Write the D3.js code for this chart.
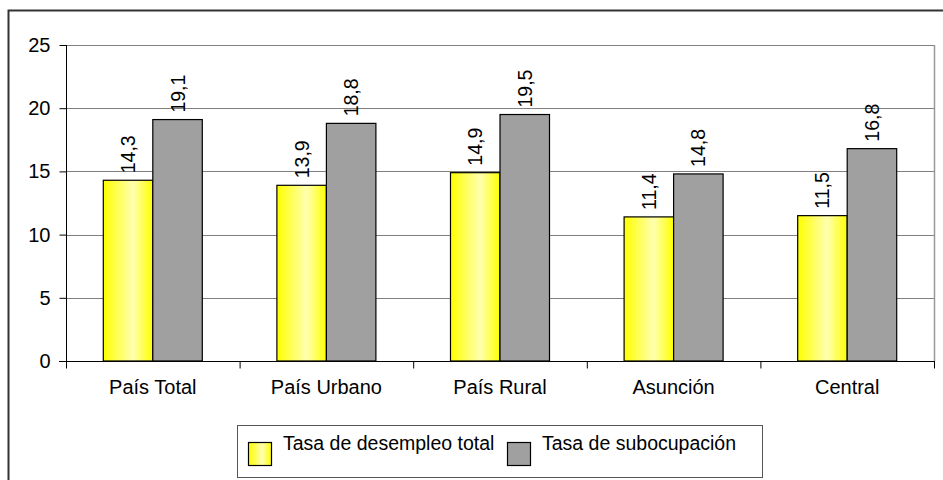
<!DOCTYPE html>
<html>
<head>
<meta charset="utf-8">
<script src="https://cdn.jsdelivr.net/npm/d3@7"></script>
<style>
body{margin:0;background:#fff;}
svg{display:block;font-family:"Liberation Sans",Arial,sans-serif;}
</style>
</head>
<body>
<svg id="chart" width="943" height="480"></svg>
<script>
var categories = ["País Total","País Urbano","País Rural","Asunción","Central"];
var seriesNames = ["Tasa de desempleo total","Tasa de subocupación"];
var desempleo = [14.3,13.9,14.9,11.4,11.5];
var subocupacion = [19.1,18.8,19.5,14.8,16.8];
var yTicks = [0,5,10,15,20,25];

var svg = d3.select("#chart");
var m = {left:66, top:45, right:934, bottom:361};

// gradient for yellow bars
var defs = svg.append("defs");
var grad = defs.append("linearGradient").attr("id","yel").attr("x1","0").attr("x2","1").attr("y1","0").attr("y2","0");
grad.append("stop").attr("offset","0%").attr("stop-color","#ffff00");
grad.append("stop").attr("offset","60%").attr("stop-color","#ffffb0");
grad.append("stop").attr("offset","100%").attr("stop-color","#ffff00");

// outer frame
svg.append("rect").attr("x",8.5).attr("y",10.5).attr("width",940).attr("height",480)
  .attr("fill","none").attr("stroke","#333").attr("stroke-width",2);

var x = d3.scaleBand().domain(categories).range([m.left,m.right]);
var y = d3.scaleLinear().domain([0,25]).range([m.bottom,m.top]);

// grid
svg.append("g").selectAll("line").data(yTicks.slice(1)).join("line")
  .attr("x1",m.left).attr("x2",m.right)
  .attr("y1",function(d){return Math.round(y(d))+0.5;}).attr("y2",function(d){return Math.round(y(d))+0.5;})
  .attr("stroke","#808080");
// plot frame right
svg.append("line").attr("x1",m.right+0.5).attr("x2",m.right+0.5).attr("y1",m.top).attr("y2",m.bottom)
  .attr("stroke","#999").attr("stroke-width",1.5);

var data = [desempleo, subocupacion];
var bw = 49.5;
data.forEach(function(vals,si){
  svg.append("g").selectAll("rect").data(vals).join("rect")
    .attr("x",function(d,i){return x(categories[i])+x.bandwidth()/2-bw+si*bw;})
    .attr("width",bw)
    .attr("y",function(d){return y(d);})
    .attr("height",function(d){return y(0)-y(d);})
    .attr("fill",si===0?"url(#yel)":"#a0a0a0")
    .attr("stroke","#000").attr("stroke-width",1.2);
  svg.append("g").selectAll("text").data(vals).join("text")
    .attr("transform",function(d,i){
      var cx = x(categories[i])+x.bandwidth()/2-bw/2+si*bw;
      return "translate("+(cx+7)+","+(y(d)-7)+") rotate(-90)";})
    .attr("font-size",19.5).attr("fill","#000")
    .text(function(d){return String(d.toFixed(1)).replace(".",",");});
});

// y axis
var yAxis = d3.axisLeft(y).tickValues(yTicks).tickSize(7).tickPadding(9);
var gy = svg.append("g").attr("transform","translate("+(m.left+0.5)+",0)").call(yAxis);
gy.selectAll("text").attr("font-size",20).attr("fill","#000");
gy.selectAll("line").attr("stroke","#000");
gy.select(".domain").attr("stroke","#000").attr("d","M0,"+m.top+"V"+(m.bottom+0.5));

// x axis
var xAxis = d3.axisBottom(x).tickSize(0).tickPadding(18);
var gx = svg.append("g").attr("transform","translate(0,"+(m.bottom+0.5)+")").call(xAxis);
gx.selectAll("text").attr("font-size",20).attr("fill","#000");
gx.select(".domain").attr("stroke","#000").attr("d","M"+(m.left-7)+",0H"+(m.right+1));
gx.selectAll(".sep").data(categories.concat(["end"])).join("line").attr("class","sep")
  .attr("x1",function(d,i){return m.left+i*x.bandwidth()+0.5;})
  .attr("x2",function(d,i){return m.left+i*x.bandwidth()+0.5;})
  .attr("y1",0).attr("y2",7).attr("stroke","#000");

// legend
var lg = svg.append("g");
lg.append("rect").attr("x",237.5).attr("y",425.5).attr("width",525).attr("height",52)
  .attr("fill","#fff").attr("stroke","#555");
var legX = [248,507];
seriesNames.forEach(function(n,i){
  lg.append("rect").attr("x",legX[i]+0.5).attr("y",442.5).attr("width",23).attr("height",23)
    .attr("fill",i===0?"url(#yel)":"#a0a0a0").attr("stroke","#000").attr("stroke-width",1.2);
  lg.append("text").attr("x",legX[i]+35).attr("y",450).attr("font-size",19.5).attr("fill","#000").text(n);
});
</script>
</body>
</html>
